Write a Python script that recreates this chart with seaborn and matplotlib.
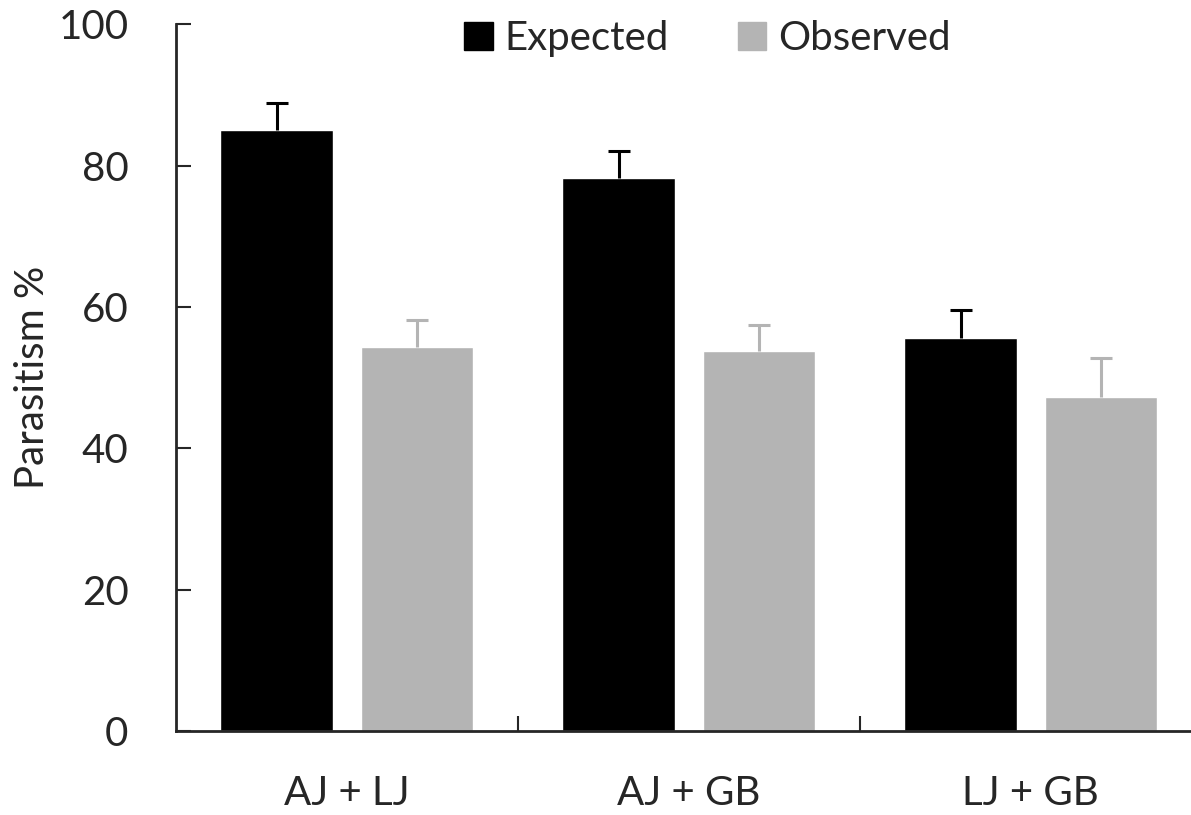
"""Parasitism: expected vs observed per species pair."""

import matplotlib
matplotlib.use("Agg")

import matplotlib.pyplot as plt
import numpy as np
import pandas as pd
import seaborn as sns

# datos
pairs = ["AJ + LJ", "AJ + GB", "LJ + GB"]
groups = ["Expected", "Observed"]
expected = [85.0, 78.2, 55.6]
observed = [54.3, 53.7, 47.2]
expected_err = [3.8, 3.8, 3.9]
observed_err = [3.8, 3.7, 5.5]
colors = {"Expected": "#000000", "Observed": "#b4b4b4"}

df = pd.DataFrame({
    "pair": pairs * 2,
    "group": ["Expected"] * 3 + ["Observed"] * 3,
    "value": expected + observed,
})
errs = {"Expected": expected_err, "Observed": observed_err}

sns.set_style("ticks")
plt.rcParams["font.family"] = ["Lato", "DejaVu Sans"]
FS = 29

fig = plt.figure(figsize=(11.91, 8.15), dpi=100)
ax = fig.add_axes([0.1475, 0.1033, 0.8525, 0.8669])

sns.barplot(data=df, x="pair", y="value", hue="group", order=pairs,
            hue_order=groups, palette=colors, width=0.82, gap=0.2,
            errorbar=None, saturation=1, ax=ax, legend=True)

# barras de error solo hacia arriba
n = len(pairs)
for i, g in enumerate(groups):
    bars = ax.patches[i * n:(i + 1) * n]
    xs = [b.get_x() + b.get_width() / 2 for b in bars]
    ys = [b.get_height() for b in bars]
    _, caps, _ = ax.errorbar(xs, ys, yerr=[np.zeros(n), errs[g]], fmt="none",
                             ecolor=colors[g], elinewidth=2.2, capsize=8,
                             capthick=2.2)
    caps[0].set_visible(False)

ax.set_ylim(0, 100)
ax.set_yticks(range(0, 101, 20))
ax.set_xlim(-0.5, 2.469)
ax.set_xticks([0.5, 1.5], minor=True)
ax.set_xticks(range(n))
ax.set_xticklabels(pairs)
ax.tick_params(axis="x", which="major", length=0, pad=32, labelsize=FS)
ax.tick_params(axis="x", which="minor", direction="in", length=11, width=1.5)
ax.tick_params(axis="y", direction="in", length=11, width=1.5, pad=34,
               labelsize=FS)
ax.set_xlabel("")
ax.set_ylabel("Parasitism %", fontsize=FS, labelpad=5)

for side in ["top", "right"]:
    ax.spines[side].set_visible(False)
for side in ["left", "bottom"]:
    ax.spines[side].set_linewidth(2)

ax.legend_.remove()
handles = [plt.Rectangle((0, 0), 1, 1, color=colors[g]) for g in groups]
fig.legend(handles, groups, loc="upper center", bbox_to_anchor=(0.594, 1.02),
           ncol=2, frameon=False, fontsize=FS, handlelength=0.7,
           handleheight=0.7, handletextpad=0.3, columnspacing=1.7)

fig.savefig("out.png", dpi=100)
plt.close(fig)
